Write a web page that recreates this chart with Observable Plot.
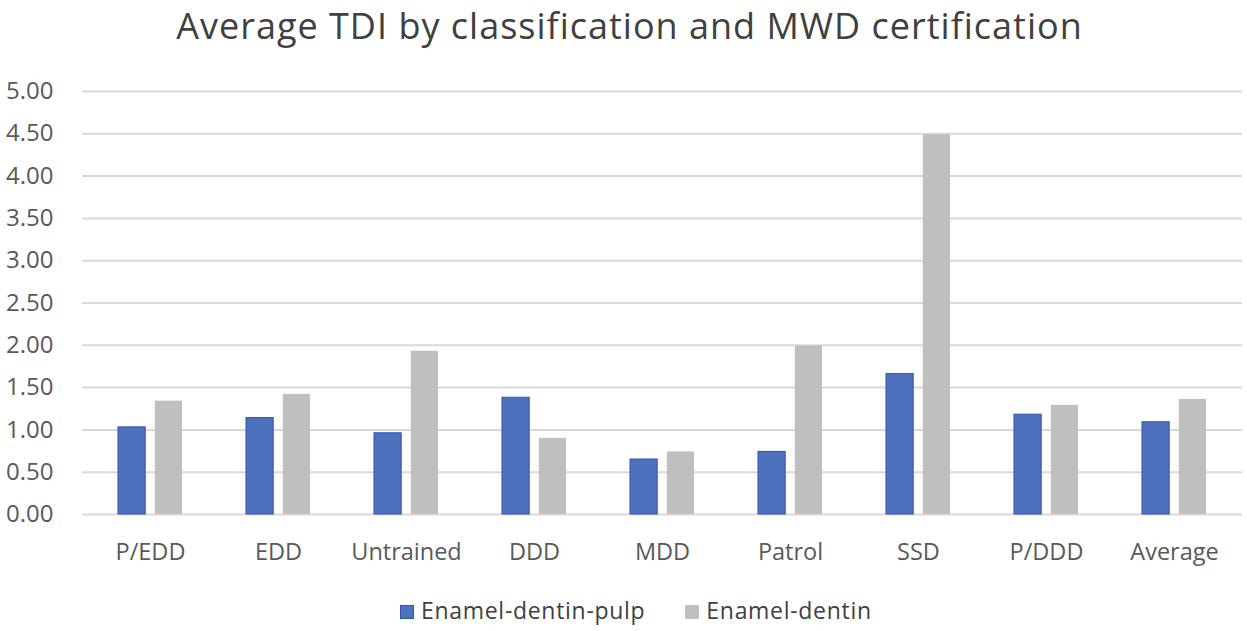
<!DOCTYPE html>
<html>
<head>
<meta charset="utf-8">
<script src="https://cdn.jsdelivr.net/npm/d3@7"></script>
<script src="https://cdn.jsdelivr.net/npm/@observablehq/plot@0.6"></script>
<style>
  html, body { margin: 0; padding: 0; background: #fff; }
  body { width: 1247px; height: 631px; position: relative; overflow: hidden; font-family: "Open Sans", sans-serif; }
  #title { height: 54px; line-height: 52px; font-size: 36px; letter-spacing: 1px; color: #404040; text-align: center; padding-left: 12px; white-space: nowrap; }
  #legend { position: absolute; left: 400px; top: 595px; display: flex; align-items: center; font-size: 23px; letter-spacing: 0.7px; line-height: 30px; color: #404040; white-space: nowrap; }
  .item { display: flex; align-items: center; margin-right: 40px; }
  .sw { width: 14px; height: 14px; margin-right: 7px; box-sizing: border-box; position: relative; top: 2px; }
</style>
</head>
<body>
<div id="title">Average TDI by classification and MWD certification</div>
<div id="chart"></div>
<div id="legend"></div>
<script>
const categories = ["P/EDD", "EDD", "Untrained", "DDD", "MDD", "Patrol", "SSD", "P/DDD", "Average"];
const seriesNames = ["Enamel-dentin-pulp", "Enamel-dentin"];
const pulpValues = [1.03, 1.14, 0.96, 1.38, 0.65, 0.74, 1.66, 1.18, 1.09];
const dentinValues = [1.34, 1.42, 1.93, 0.90, 0.74, 1.99, 4.49, 1.29, 1.36];
const yTicks = [0, 0.5, 1, 1.5, 2, 2.5, 3, 3.5, 4, 4.5, 5];
const seriesColors = ["#4e71be", "#bfbfbf"];
const seriesStrokes = ["#2c55b2", "none"];

const pulpData = categories.map((c, i) => ({category: c, series: seriesNames[0], value: pulpValues[i]}));
const dentinData = categories.map((c, i) => ({category: c, series: seriesNames[1], value: dentinValues[i]}));

const chart = Plot.plot({
  width: 1247,
  height: 520,
  marginLeft: 82,
  marginRight: 5,
  marginTop: 37,
  marginBottom: 60,
  style: {fontFamily: "Open Sans, sans-serif", background: "#fff", overflow: "visible"},
  x: {domain: categories, paddingInner: 0.5, paddingOuter: 0.25, label: null},
  y: {domain: [0, 5], label: null},
  color: {domain: seriesNames, range: seriesColors},
  marks: [
    Plot.ruleY(yTicks, {stroke: "#d9d9d9", strokeWidth: 2}),
    Plot.barY(pulpData, {x: "category", y: "value", fill: "series", stroke: seriesStrokes[0], strokeWidth: 1, insetRight: 36.8}),
    Plot.barY(dentinData, {x: "category", y: "value", fill: "series", insetLeft: 36.8}),
    Plot.axisY({ticks: yTicks, tickFormat: d => d.toFixed(2), tickSize: 0, tickPadding: 29, fontSize: 24, fill: "#595959", label: null}),
    Plot.axisX({tickSize: 0, tickPadding: 28.5, fontSize: 23.5, fill: "#595959", label: null})
  ]
});
document.getElementById("chart").appendChild(chart);

const legend = document.getElementById("legend");
seriesNames.forEach((name, i) => {
  const item = document.createElement("div");
  item.className = "item";
  const sw = document.createElement("div");
  sw.className = "sw";
  sw.style.background = seriesColors[i];
  if (seriesStrokes[i] !== "none") sw.style.border = "1px solid " + seriesStrokes[i];
  const label = document.createElement("span");
  label.textContent = name;
  item.appendChild(sw);
  item.appendChild(label);
  legend.appendChild(item);
});
</script>
</body>
</html>
